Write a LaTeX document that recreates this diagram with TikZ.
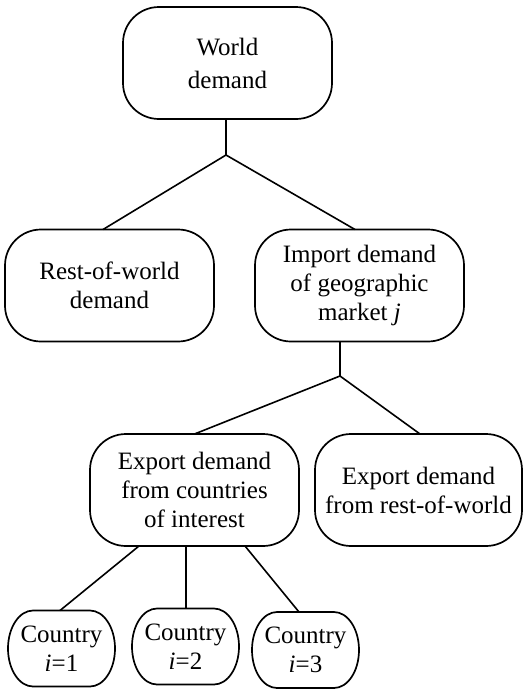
\documentclass[tikz,border=0pt]{standalone}
\usepackage{fontspec}
\setmainfont{Liberation Serif}
\newcommand\ctrybox[1]{%
  \draw[line width=1.7pt] (#1.east) .. controls +(0,-21) and +(13.8,0) .. ([xshift=-25pt]#1.north east)
    -- ([xshift=25pt]#1.north west) .. controls +(-13.8,0) and +(0,-21) .. (#1.west)
    .. controls +(0,21) and +(-13.8,0) .. ([xshift=25pt]#1.south west)
    -- ([xshift=-25pt]#1.south east) .. controls +(13.8,0) and +(0,21) .. (#1.east) -- cycle;}
\begin{document}
\begin{tikzpicture}[x=1pt,y=-1pt,
  every node/.style={font=\fontsize{25}{29}\selectfont, align=center, inner sep=0pt, outer sep=0pt},
  bigbox/.style={draw, line width=1.7pt, rounded corners=36pt, minimum width=209pt, minimum height=112pt},
  smallbox/.style={minimum width=107pt, minimum height=76pt},
  conn/.style={line width=1.6pt}]
\useasboundingbox (0,0) rectangle (530,689);
\node[bigbox, font=\fontsize{25}{33}\selectfont] (world) at (227.5,63) {World\\demand};
\node[bigbox] (rest) at (109.5,285.5) {Rest-of-world\\demand};
\node[bigbox] (imp) at (359.5,285.5) {Import demand\\of geographic\\market \textit{j}};
\node[bigbox] (expc) at (194.5,490) {Export demand\\from countries\\of interest};
\node[bigbox, minimum width=207pt] (expr) at (418.5,490) {Export demand\\from rest-of-world};
\node[smallbox] (c1) at (61.5,648.5) {Country\\\textit{i}=1};
\node[smallbox] (c2) at (185.5,646.5) {Country\\\textit{i}=2};
\node[smallbox] (c3) at (305.5,650) {Country\\\textit{i}=3};
\ctrybox{c1}
\ctrybox{c2}
\ctrybox{c3}
\coordinate (j1) at (226,155);
\coordinate (j2) at (340,376);
\draw[conn] ([xshift=-1.5pt]world.south) -- (j1);
\draw[conn] (j1) -- ([xshift=-6.5pt]rest.north);
\draw[conn] (j1) -- ([xshift=-4.5pt]imp.north);
\draw[conn] ([xshift=-19.5pt]imp.south) -- (j2);
\draw[conn] (j2) -- (expc.north);
\draw[conn] (j2) -- ([xshift=1.5pt]expr.north);
\draw[conn] ([xshift=-55.5pt]expc.south) -- ([xshift=-1.5pt]c1.north);
\draw[conn] ([xshift=-8.5pt]expc.south) -- ([xshift=0.5pt]c2.north);
\draw[conn] ([xshift=50.5pt]expc.south) -- ([xshift=-6.5pt]c3.north);
\end{tikzpicture}
\end{document}
